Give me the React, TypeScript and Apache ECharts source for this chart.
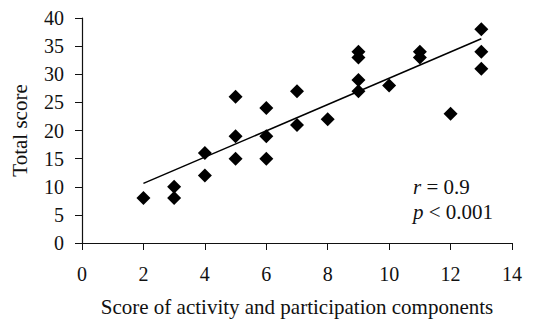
import React, { useEffect, useRef } from "react";
import * as echarts from "echarts";

const xValues = [2, 3, 3, 4, 4, 5, 5, 5, 6, 6, 6, 7, 7, 8, 9, 9, 9, 9, 10, 11, 11, 12, 13, 13, 13];
const yValues = [8, 10, 8, 16, 12, 26, 19, 15, 24, 19, 15, 27, 21, 22, 34, 33, 29, 27, 28, 34, 33, 23, 38, 34, 31];
const fitLine = [
  [2, 10.6],
  [13, 36.3],
];
const xTicks = { min: 0, max: 14, interval: 2 };
const yTicks = { min: 0, max: 40, interval: 5 };
const xTitle = "Score of activity and participation components";
const yTitle = "Total score";
const statR = "0.9";
const statP = "0.001";

const FONT = "'Liberation Serif', 'Times New Roman', serif";

export default function App() {
  const ref = useRef<HTMLDivElement>(null);
  useEffect(() => {
    if (!ref.current) return;
    const chart = echarts.init(ref.current, null, { renderer: "svg" });
    const points = xValues.map((x, i) => [x, yValues[i]]);
    chart.setOption({
      animation: false,
      backgroundColor: "#fff",
      grid: { left: 82, right: 21, top: 18, bottom: 77 },
      xAxis: {
        type: "value",
        min: xTicks.min,
        max: xTicks.max,
        interval: xTicks.interval,
        name: xTitle,
        nameLocation: "middle",
        nameGap: 53,
        nameTextStyle: { fontFamily: FONT, fontSize: 21, color: "#111" },
        axisLine: { show: true, lineStyle: { color: "#111", width: 1.2 } },
        axisTick: { show: true, length: 7, lineStyle: { color: "#111" } },
        axisLabel: { fontFamily: FONT, fontSize: 20, color: "#111", margin: 21 },
        splitLine: { show: false },
      },
      yAxis: {
        type: "value",
        min: yTicks.min,
        max: yTicks.max,
        interval: yTicks.interval,
        name: yTitle,
        nameLocation: "middle",
        nameGap: 52,
        nameTextStyle: { fontFamily: FONT, fontSize: 21, color: "#111" },
        axisLine: { show: true, lineStyle: { color: "#111", width: 1.2 } },
        axisTick: { show: true, length: 7, lineStyle: { color: "#111" } },
        axisLabel: { fontFamily: FONT, fontSize: 20, color: "#111", margin: 18 },
        splitLine: { show: false },
      },
      series: [
        {
          type: "scatter",
          data: points,
          symbol: "diamond",
          symbolSize: 14,
          itemStyle: { color: "#000", opacity: 1 },
        },
        {
          type: "line",
          data: fitLine,
          symbol: "none",
          lineStyle: { color: "#000", width: 1.5 },
        },
      ],
      graphic: [
        {
          type: "text",
          left: 413,
          top: 176,
          style: {
            text: "{i|r} = " + statR,
            font: "21px " + FONT,
            fill: "#111",
            rich: { i: { fontStyle: "italic", fontFamily: FONT, fontSize: 21, fill: "#111" } },
          },
        },
        {
          type: "text",
          left: 413,
          top: 201,
          style: {
            text: "{i|p} < " + statP,
            font: "21px " + FONT,
            fill: "#111",
            rich: { i: { fontStyle: "italic", fontFamily: FONT, fontSize: 21, fill: "#111" } },
          },
        },
      ],
    });
    return () => chart.dispose();
  }, []);
  return <div ref={ref} style={{ width: 533, height: 322, position: "absolute", left: 0, top: 0 }} />;
}
